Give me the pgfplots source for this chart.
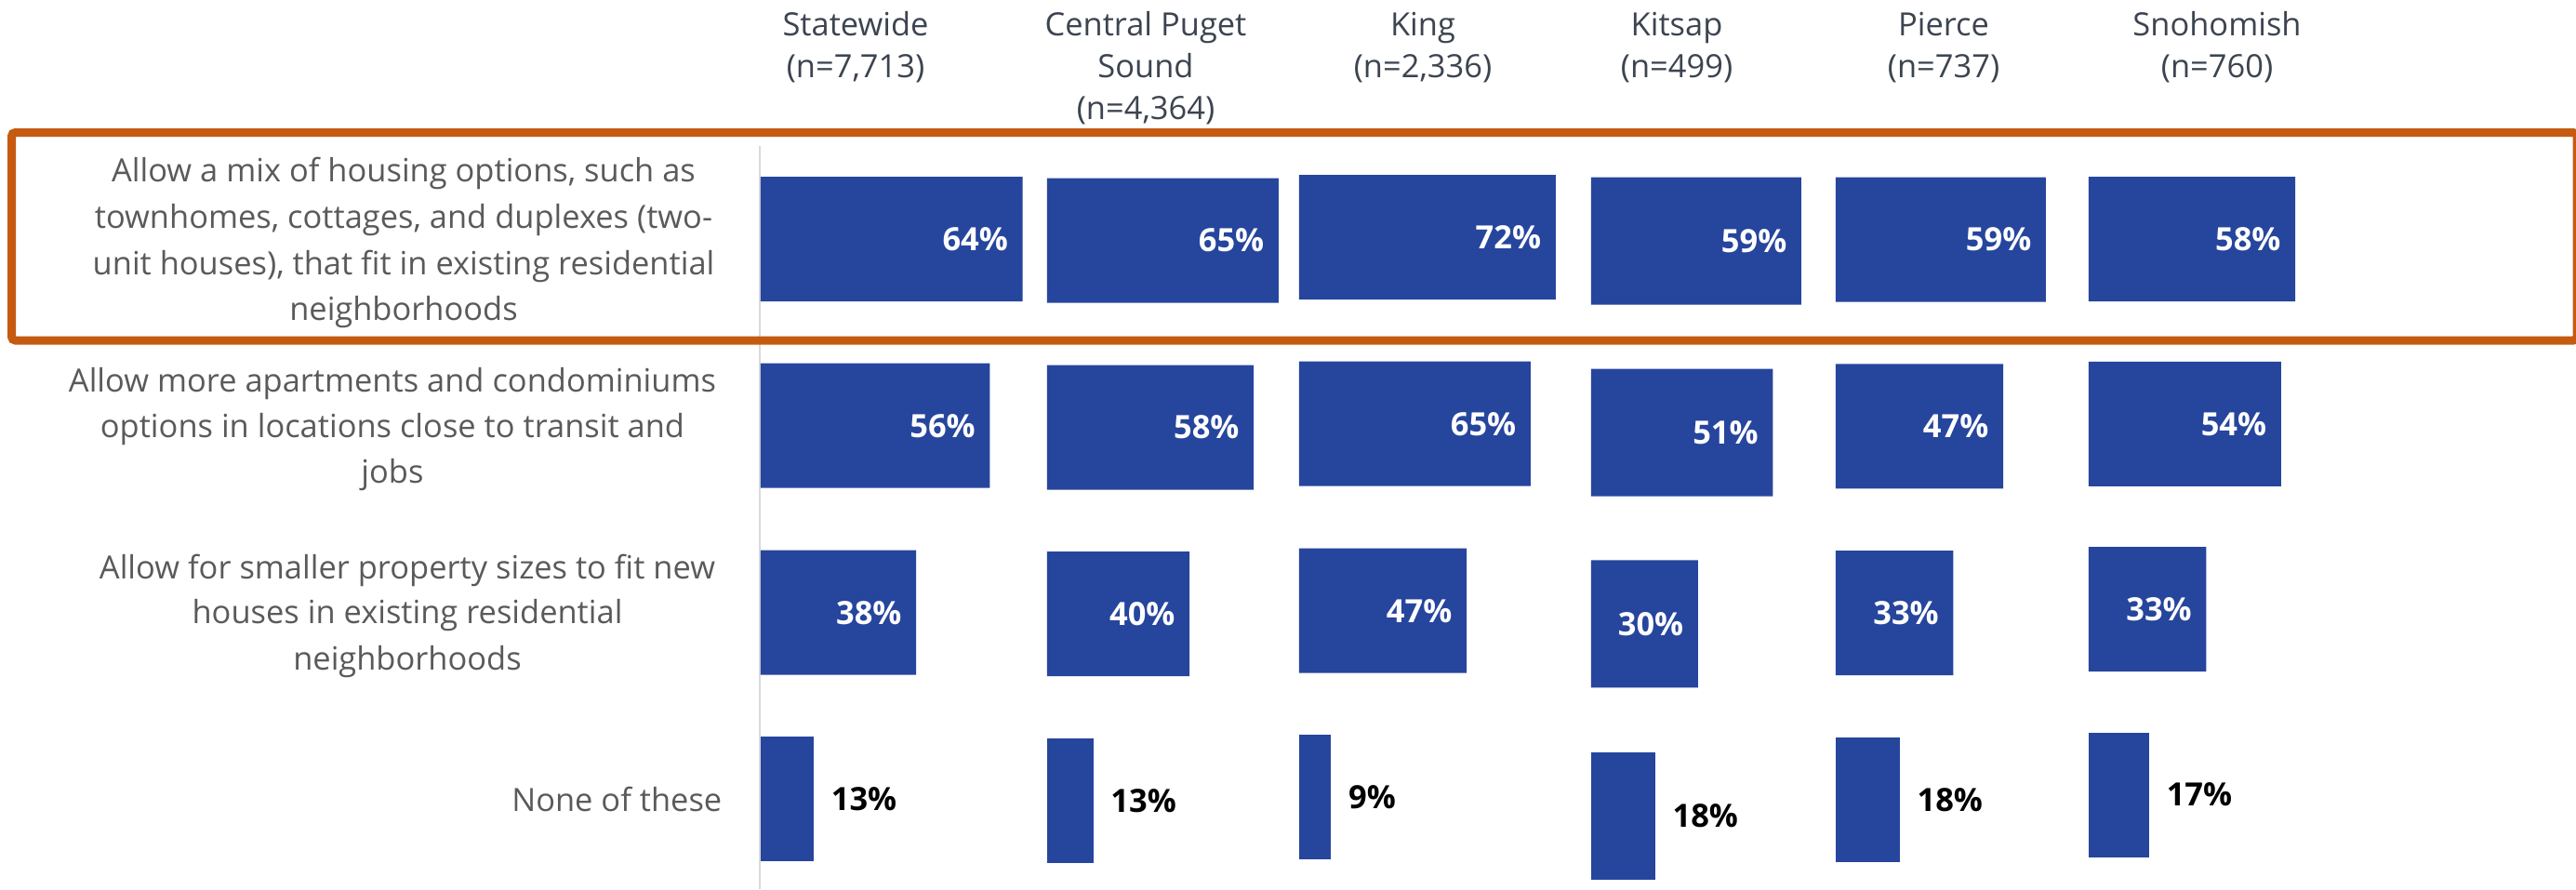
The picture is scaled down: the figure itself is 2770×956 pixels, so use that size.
\documentclass[border=0pt]{standalone}
\usepackage{fontspec}
\setmainfont{Open Sans}
\usepackage{pgfplots}
\pgfplotsset{compat=1.18}
\definecolor{barblue}{HTML}{26459D}
\definecolor{hlorange}{HTML}{C55A11}
\definecolor{labgray}{HTML}{5A5A5A}
\definecolor{headgray}{HTML}{3C4450}
\definecolor{axgray}{HTML}{D9D9D9}
\newcommand{\lblfont}{\fontsize{9.8}{12}\selectfont}
\pgfplotsset{
  panel/.style={
    hide axis, clip=false,
    y=0.1mm, y dir=reverse, ymin=0, ymax=956,
    xmin=0, xmax=80,
    anchor=north west,
    xbar, bar shift=0pt, bar width=134,
    point meta=x,
    /pgf/number format/assume math mode=true,
    /pgf/number format/fixed, /pgf/number format/precision=0,
  },
  inlab/.style={fill=barblue, draw=none,
    nodes near coords={\pgfmathprintnumber{\pgfplotspointmeta}\%},
    every node near coord/.append style={anchor=east, xshift=-1.5mm, text=white, font=\bfseries\lblfont, inner sep=0pt}},
  outlab/.style={fill=barblue, draw=none,
    nodes near coords={\pgfmathprintnumber{\pgfplotspointmeta}\%},
    every node near coord/.append style={anchor=west, xshift=1.8mm, text=black, font=\bfseries\lblfont, inner sep=0pt}},
}
\begin{document}
\begin{tikzpicture}[x=0.1mm, y=-0.1mm]
\useasboundingbox (0,0) rectangle (2770,956);
% axis line
\draw[axgray, line width=0.2mm] (817,157) -- (817,956);

% Statewide
\begin{axis}[panel, at={(81.8mm,0mm)}, x=0.440mm]
\addplot[inlab] coordinates {(64,257.0) (56,457.7) (38,658.7)};
\addplot[outlab] coordinates {(13,859.3)};
\end{axis}
% Central Puget Sound
\begin{axis}[panel, at={(112.6mm,0mm)}, x=0.383mm]
\addplot[inlab] coordinates {(65,258.5) (58,459.5) (40,660.2)};
\addplot[outlab] coordinates {(13,860.7)};
\end{axis}
% King
\begin{axis}[panel, at={(139.7mm,0mm)}, x=0.383mm]
\addplot[inlab] coordinates {(72,255.0) (65,455.7) (47,656.7)};
\addplot[outlab] coordinates {(9,857.3)};
\end{axis}
% Kitsap
\begin{axis}[panel, at={(171.1mm,0mm)}, x=0.383mm, bar width=137]
\addplot[inlab] coordinates {(59,259.0) (51,465.0) (30,670.8)};
\addplot[outlab] coordinates {(18,877.0)};
\end{axis}
% Pierce
\begin{axis}[panel, at={(197.4mm,0mm)}, x=0.383mm]
\addplot[inlab] coordinates {(59,257.5) (47,458.3) (33,659.2)};
\addplot[outlab] coordinates {(18,859.8)};
\end{axis}
% Snohomish
\begin{axis}[panel, at={(224.6mm,0mm)}, x=0.383mm]
\addplot[inlab] coordinates {(58,257.0) (54,455.8) (33,655.2)};
\addplot[outlab] coordinates {(17,854.5)};
\end{axis}

% highlight box
\draw[hlorange, line width=0.9mm, rounded corners=0.4mm] (12.5,142.5) rectangle (2771,366);

% headers
\begin{scope}[every node/.style={anchor=base, inner sep=0pt, text=headgray, font=\lblfont}]
\node at (920,38) {Statewide};
\node at (920,83) {(n=7,713)};
\node at (1232,38) {Central Puget};
\node at (1232,83) {Sound};
\node at (1232,128) {(n=4,364)};
\node at (1530,38) {King};
\node at (1530,83) {(n=2,336)};
\node at (1803,38) {Kitsap};
\node at (1803,83) {(n=499)};
\node at (2090,38) {Pierce};
\node at (2090,83) {(n=737)};
\node at (2384,38) {Snohomish};
\node at (2384,83) {(n=760)};
\end{scope}

% category labels
\begin{scope}[every node/.style={anchor=base, inner sep=0pt, text=labgray, font=\lblfont}]
\node at (434,195) {Allow a mix of housing options, such as};
\node at (434,245) {townhomes, cottages, and duplexes (two-};
\node at (434,295) {unit houses), that fit in existing residential};
\node at (434,344) {neighborhoods};
\node at (422,421) {Allow more apartments and condominiums};
\node at (422,470) {options in locations close to transit and};
\node at (422,519) {jobs};
\node at (438,622) {Allow for smaller property sizes to fit new};
\node at (438,670) {houses in existing residential};
\node at (438,720) {neighborhoods};
\node[anchor=base east] at (777,872) {None of these};
\end{scope}
\end{tikzpicture}
\end{document}
